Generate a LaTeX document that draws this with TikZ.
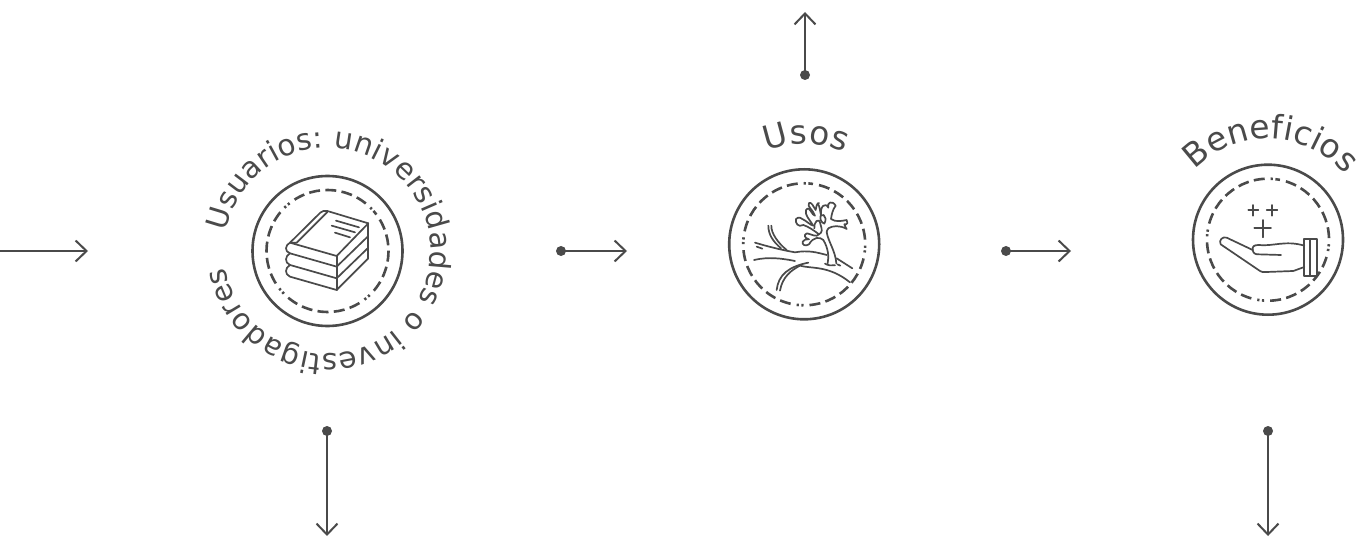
\documentclass[tikz,border=0pt]{standalone}
\usepackage{fontspec}
\usetikzlibrary{arrows.meta,decorations.text}
\newfontfamily\labfont{DejaVu Sans}
\newcommand{\lab}{\labfont\fontsize{29.5}{30}\selectfont}
\newcommand{\labbig}{\labfont\fontsize{33}{33}\selectfont}
\definecolor{ink}{HTML}{4A4A4A}
\tikzset{
  ring/.style={circle,draw=ink,line width=2.6bp,minimum size=150bp,inner sep=0pt},
  dashring/.style={draw=ink,line width=2.6bp,dash pattern=on 2.2bp off 2.5bp on 2.2bp off 6bp on 11bp off 5.3bp on 11bp off 5.3bp on 11bp off 5.3bp on 11bp off 5.3bp on 11bp off 6.1bp},
  dotnode/.style={circle,fill=ink,minimum size=10bp,inner sep=0pt},
  conn/.style={draw=ink,line width=2.4bp,-{Straight Barb[length=11bp,width=21bp,line width=2bp]}},
  icon/.style={draw=ink,line width=1.7bp,line cap=round,line join=round},
  curved/.style={decoration={text along path,text align={fit to path},text={|\lab\color{ink}|#1}},decorate},
  curvedbig/.style={decoration={text along path,text align={fit to path},text={|\labbig\color{ink}|#1}},decorate}
}
\begin{document}
\begin{tikzpicture}[x=1bp,y=1bp]
\useasboundingbox (0,-539) rectangle (1359,0);
\fill[white] (0,-539) rectangle (1359,0);
% rings
\node[ring] (c1) at (327.5,-251) {};
\node[ring] (c2) at (804.2,-244.3) {};
\node[ring] (c3) at (1268,-239.7) {};
\path[dashring,rotate around={39:(c1)}] (c1) circle (61);
\path[dashring,rotate around={84:(c2)}] (c2) circle (61);
\path[dashring,rotate around={81:(c3)}] (c3) circle (61);
% curved labels
\path[curved={Usuarios: universidades o investigadores}] (c1) ++(169:103) arc (169:-171:103);
\path[curvedbig={Usos}] (c2) ++(112:100) arc (112:66:100);
\path[curvedbig={Beneficios}] (c3) ++(136:101) arc (136:41:101);
% connectors
\coordinate (s0) at (0,-251);
\coordinate (e0) at (88,-251);
\node[dotnode] (d1) at (561,-251) {};
\coordinate (e1) at (627,-251);
\node[dotnode] (d2) at (1006,-251) {};
\coordinate (e2) at (1071,-251);
\node[dotnode] (d3) at (805,-75) {};
\coordinate (e3) at (805,-12);
\node[dotnode] (d4) at (327,-431) {};
\coordinate (e4) at (327,-536);
\node[dotnode] (d5) at (1268,-431) {};
\coordinate (e5) at (1268,-536);
\draw[conn] (s0) -- (e0);
\draw[conn] (d1.center) -- (e1);
\draw[conn] (d2.center) -- (e2);
\draw[conn] (d3.center) -- (e3);
\draw[conn] (d4.center) -- (e4);
\draw[conn] (d5.center) -- (e5);
% book
\begin{scope}[shift={(275,-200)},x=0.3333bp,y=-0.3333bp,icon]
\draw (280,70) -- (157,33) .. controls (148,31) and (142,33) .. (136,38) -- (45,128) -- (185,168) -- (280,70);
\draw (157,36) -- (65,128) -- (48,128);
\draw (45,128) .. controls (30,135) and (28,155) .. (45,160) -- (185,200) -- (280,108);
\draw (45,160) .. controls (30,168) and (28,188) .. (45,195) -- (185,235) -- (280,143);
\draw (45,195) .. controls (30,203) and (28,223) .. (45,230) -- (185,270) -- (280,175);
\draw (185,168) -- (185,270);
\draw (280,70) -- (280,175);
\draw (183,62) -- (252,82);
\draw (170,77) -- (240,97);
\draw (180,98) -- (225,112);
\end{scope}
% tree
\begin{scope}[shift={(745,-195)},x=0.3333bp,y=-0.3333bp,icon]
\draw (30,143) .. controls (70,155) and (110,165) .. (150,172) .. controls (190,165) and (215,172) .. (245,180);
\draw (35,155) -- (52,161);
\draw (70,92) .. controls (70,120) and (85,140) .. (108,160);
\draw (79,92) .. controls (78,115) and (100,145) .. (125,165);
\draw (275,190) -- (322,220);
\draw (27,195) .. controls (70,185) and (110,190) .. (150,198);
\draw (95,285) .. controls (100,240) and (130,215) .. (190,203);
\draw (105,287) .. controls (112,245) and (140,225) .. (165,212) .. controls (200,222) and (250,210) .. (315,262);
\draw (235,135) .. controls (250,160) and (252,185) .. (248,205);
\draw (245,112) .. controls (250,140) and (272,170) .. (274,205);
\draw (240,206) .. controls (250,212) and (260,212) .. (270,211);
\draw (277,208) -- (286,212);
% coral
\draw (235,135) .. controls (225,125) and (205,125) .. (192,148) .. controls (180,156) and (170,148) .. (173,140) .. controls (176,133) and (185,132) .. (192,133)
  .. controls (178,130) and (175,118) .. (186,115) .. controls (200,118) and (215,128) .. (222,118)
  .. controls (205,105) and (190,95) .. (175,90) .. controls (160,98) and (150,85) .. (153,72) .. controls (160,65) and (170,68) .. (172,72)
  .. controls (185,78) and (195,90) .. (205,92) .. controls (195,75) and (178,60) .. (183,45) .. controls (188,38) and (195,40) .. (197,48)
  .. controls (202,55) and (205,62) .. (210,62) .. controls (205,45) and (185,35) .. (192,24) .. controls (200,20) and (205,35) .. (212,45) .. controls (215,38) and (212,28) .. (222,24);
\draw (208,100) .. controls (205,85) and (222,60) .. (227,90) .. controls (232,105) and (232,112) .. (222,118);
\draw (218,25) .. controls (225,35) and (225,50) .. (228,60) .. controls (225,35) and (240,20) .. (250,38) .. controls (245,22) and (262,15) .. (272,32) .. controls (262,45) and (260,60) .. (258,72) .. controls (272,82) and (290,78) .. (305,75) .. controls (310,80) and (308,90) .. (298,88) .. controls (300,97) and (305,100) .. (305,102) .. controls (285,90) and (262,92) .. (250,100) .. controls (246,105) and (245,110) .. (245,112);
\draw (227,62) .. controls (224,72) and (228,82) .. (238,86) .. controls (244,75) and (242,65) .. (236,60) -- (227,62);
\end{scope}
% hand
\begin{scope}[shift={(1210,-195)},x=0.3333bp,y=-0.3333bp,icon]
\draw (115,45) -- (145,45); \draw (130,30) -- (130,62);
\draw (170,45) -- (202,45); \draw (186,30) -- (186,62);
\draw (133,100) -- (183,100); \draw (158,75) -- (158,127);
\draw (128,165) -- (50,128) .. controls (38,124) and (25,135) .. (32,148) -- (150,228) .. controls (155,232) and (160,232) .. (170,231) -- (250,228) -- (283,216);
\draw (128,165) .. controls (126,155) and (132,150) .. (145,150) .. controls (190,155) and (225,135) .. (283,152);
\draw (128,165) .. controls (130,175) and (135,178) .. (145,178) -- (213,180);
\draw (283,132) rectangle (322,242);
\draw (300,132) -- (300,242);
\end{scope}
\end{tikzpicture}
\end{document}
